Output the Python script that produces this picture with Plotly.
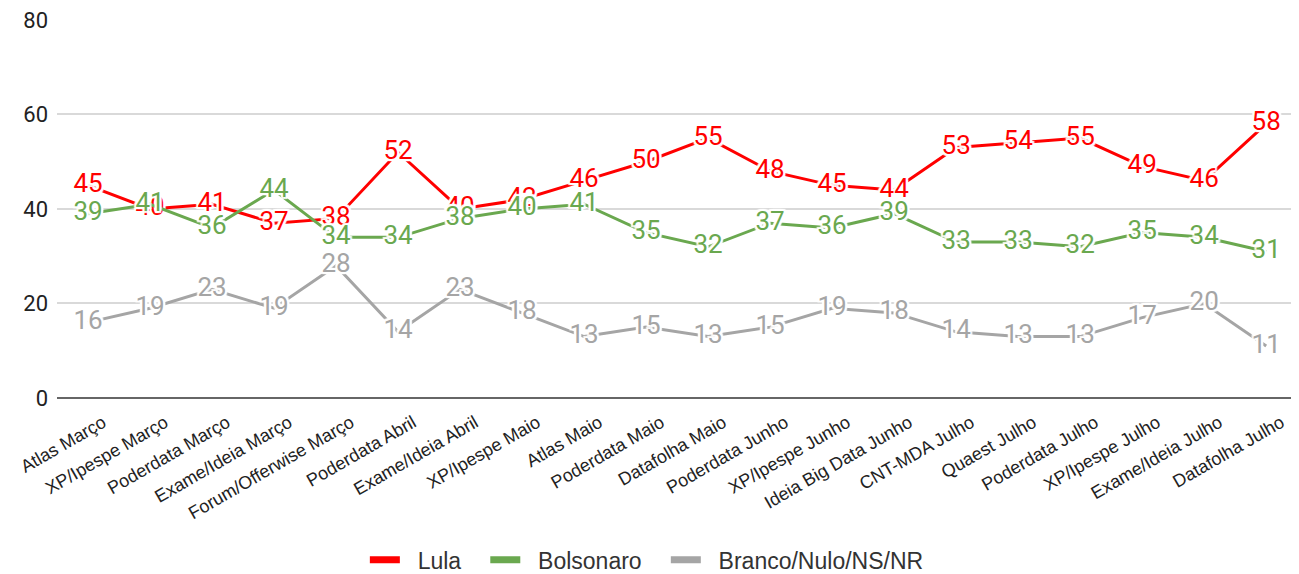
import plotly.graph_objects as go

categories = ["Atlas Março", "XP/Ipespe Março", "Poderdata Março", "Exame/Ideia Março",
              "Forum/Offerwise Março", "Poderdata Abril", "Exame/Ideia Abril", "XP/Ipespe Maio",
              "Atlas Maio", "Poderdata Maio", "Datafolha Maio", "Poderdata Junho",
              "XP/Ipespe Junho", "Ideia Big Data Junho", "CNT-MDA Julho", "Quaest Julho",
              "Poderdata Julho", "XP/Ipespe Julho", "Exame/Ideia Julho", "Datafolha Julho"]
lula = [45, 40, 41, 37, 38, 52, 40, 42, 46, 50, 55, 48, 45, 44, 53, 54, 55, 49, 46, 58]
bolsonaro = [39, 41, 36, 44, 34, 34, 38, 40, 41, 35, 32, 37, 36, 39, 33, 33, 32, 35, 34, 31]
branco = [16, 19, 23, 19, 28, 14, 23, 18, 13, 15, 13, 15, 19, 18, 14, 13, 13, 17, 20, 11]
y_ticks = [0, 20, 40, 60, 80]

series = [("Lula", lula, "#ff0000"),
          ("Bolsonaro", bolsonaro, "#6aa84f"),
          ("Branco/Nulo/NS/NR", branco, "#a5a5a5")]

halo = ("2px 0 1px white, -2px 0 1px white, 0 2px 1px white, 0 -2px 1px white, "
        "2px 2px 1px white, -2px -2px 1px white, 2px -2px 1px white, -2px 2px 1px white")

NB = "\u00a0"
xs = list(range(len(categories)))
fig = go.Figure()
for name, vals, color in series:
    fig.add_trace(go.Scatter(
        x=xs, y=vals, name=name, mode="lines+text", showlegend=False,
        line=dict(color=color, width=3),
        text=[str(v) for v in vals], textposition="middle center",
        textfont=dict(color=color, size=26, family="Roboto", shadow=halo),
        cliponaxis=False,
    ))
# legend entries with thick bars
for i, (name, vals, color) in enumerate(series):
    label = NB * 2 + name + (NB * 3 if i < len(series) - 1 else "")
    fig.add_trace(go.Scatter(
        x=[None], y=[None], name=label, mode="lines",
        line=dict(color=color, width=7), showlegend=True,
    ))

fig.update_layout(
    width=1283, height=574,
    paper_bgcolor="white", plot_bgcolor="white",
    margin=dict(l=49, r=0, t=11, b=184),
    showlegend=True,
    legend=dict(orientation="h", x=0.478, xanchor="center", y=-0.427, yanchor="middle",
                font=dict(family="Liberation Sans, Arial", size=23, color="#333333")),
    xaxis=dict(tickmode="array", tickvals=xs, ticktext=categories,
               range=[-0.5, 19.4], tickangle=-30, showgrid=False, automargin=False,
               ticklabeloverflow="allow", ticklabelstandoff=10, ticklabelshift=15,
               tickfont=dict(family="Liberation Sans, Arial", size=18, color="#222222"),
               ticks="", zeroline=False),
    yaxis=dict(range=[0, 80.2], tickvals=y_ticks, showgrid=True, gridcolor="#d9d9d9",
               gridwidth=1.5, zeroline=True, zerolinecolor="#666666", zerolinewidth=2,
               automargin=False, ticklabeloverflow="allow",
               tickfont=dict(family="Roboto", size=22, color="#222222"),
               ticklabelstandoff=8),
)
fig.write_html("out.html")
